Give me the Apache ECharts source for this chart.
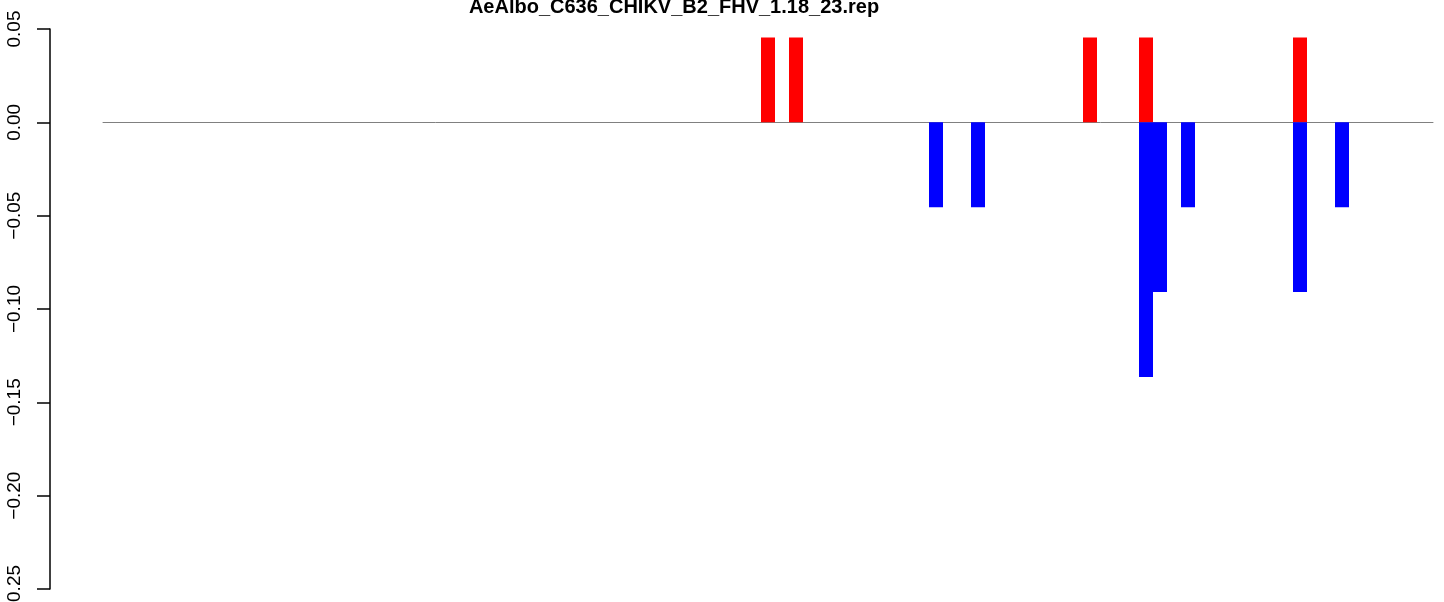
<!DOCTYPE html>
<html>
<head>
<meta charset="utf-8">
<script src="https://cdn.jsdelivr.net/npm/echarts@6/dist/echarts.min.js"></script>
<style>
  html, body { margin: 0; padding: 0; background: #fff; }
  #chart { width: 1444px; height: 602px; }
</style>
</head>
<body>
<div id="chart"></div>
<script>
// positions along the x axis (1..95), one bar per position
var positionCount = 95;
var redPositions = [48, 50, 71, 75, 86];
var redValues = [0.0455, 0.0455, 0.0455, 0.0455, 0.0455];
var bluePositions = [60, 63, 75, 76, 78, 86, 89];
var blueValues = [-0.0455, -0.0455, -0.1364, -0.0909, -0.0455, -0.0909, -0.0455];
var yTicks = [0.05, 0.00, -0.05, -0.10, -0.15, -0.20, -0.25];
var title = "AeAlbo_C636_CHIKV_B2_FHV_1.18_23.rep";

var categories = [];
for (var i = 1; i <= positionCount; i++) {
    categories.push(String(i));
}

function fillSeries(positions, values) {
    var data = [];
    for (var i = 0; i < positionCount; i++) {
        data.push(null);
    }
    for (var j = 0; j < positions.length; j++) {
        data[positions[j] - 1] = values[j];
    }
    return data;
}

var chartDom = document.getElementById('chart');
var myChart = echarts.init(chartDom, null, { renderer: 'canvas' });

var option = {
    animation: false,
    backgroundColor: '#ffffff',
    title: {
        text: title,
        left: 669,
        top: -8,
        textAlign: 'center',
        textStyle: {
            fontFamily: 'Liberation Sans',
            fontWeight: 'bold',
            fontSize: 20,
            color: '#000'
        }
    },
    grid: {
        left: 103,
        right: 11,
        top: 29,
        bottom: 13,
        containLabel: false,
        outerBoundsMode: 'none'
    },
    xAxis: {
        type: 'category',
        data: categories,
        axisLine: {
            onZero: true,
            lineStyle: { color: '#808080', width: 1 }
        },
        axisTick: { show: false },
        axisLabel: { show: false },
        splitLine: { show: false }
    },
    yAxis: {
        type: 'value',
        min: yTicks[yTicks.length - 1],
        max: yTicks[0],
        interval: 0.05,
        offset: 53,
        axisLine: {
            show: true,
            lineStyle: { color: '#000', width: 1.5 }
        },
        axisTick: {
            show: true,
            length: 13,
            lineStyle: { color: '#000', width: 1.5 }
        },
        splitLine: { show: false },
        axisLabel: {
            rotate: 90,
            margin: 26,
            fontFamily: 'Liberation Sans',
            fontSize: 19,
            color: '#000',
            formatter: function (v) {
                return v.toFixed(2).replace('-', '\u2212');
            }
        }
    },
    series: [
        {
            name: 'up',
            type: 'bar',
            data: fillSeries(redPositions, redValues),
            barGap: '-100%',
            barCategoryGap: '0%',
            itemStyle: { color: '#ff0000' }
        },
        {
            name: 'down',
            type: 'bar',
            data: fillSeries(bluePositions, blueValues),
            barGap: '-100%',
            barCategoryGap: '0%',
            itemStyle: { color: '#0000ff' }
        }
    ]
};

option && myChart.setOption(option);
</script>
</body>
</html>
